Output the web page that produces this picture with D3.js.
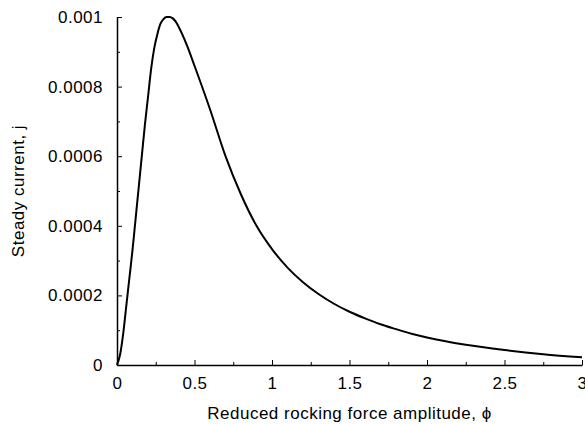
<!DOCTYPE html>
<html>
<head>
<meta charset="utf-8">
<script src="https://cdn.jsdelivr.net/npm/d3@7"></script>
<style>
    body { margin: 0; background: #fff; }
    .axis text { font-family: "Liberation Sans", Arial, sans-serif; font-size: 17px; letter-spacing: 0.5px; fill: #000; }
    .axis path, .axis line { stroke: #000; }
    .axis-title { font-family: "Liberation Sans", Arial, sans-serif; font-size: 17px; letter-spacing: 0.5px; fill: #000; }
</style>
</head>
<body>
<svg id="chart"></svg>
<script>
// Curve: reduced amplitude phi vs steady current j
const phiValues = [0, 0.02, 0.04, 0.06, 0.08, 0.10, 0.12, 0.14, 0.16, 0.18, 0.20, 0.22, 0.24, 0.26, 0.28, 0.30, 0.32, 0.34, 0.36, 0.38, 0.40, 0.45, 0.5, 0.6, 0.7, 0.8, 0.9, 1.0, 1.1, 1.2, 1.3, 1.4, 1.5, 1.6, 1.7, 1.8, 1.9, 2.0, 2.25, 2.5, 2.75, 3.0];
const currentValues = [0, 0.00003, 0.00009, 0.00017, 0.00025, 0.00033, 0.00042, 0.00051, 0.0006, 0.00069, 0.00077, 0.00085, 0.00091, 0.00095, 0.00098, 0.000994, 0.001, 0.001, 0.000996, 0.000986, 0.00097, 0.00092, 0.00086, 0.000735, 0.0006, 0.00049, 0.0004, 0.000333, 0.00028, 0.000238, 0.000204, 0.000176, 0.000153, 0.000134, 0.000117, 0.000103, 0.00009, 0.000079, 0.000058, 0.000043, 0.000031, 0.000022];

const xTicks = [0, 0.5, 1, 1.5, 2, 2.5, 3];
const xMinorTicks = [0.25, 0.75, 1.25, 1.75, 2.25, 2.75];
const yTicks = [0, 0.0002, 0.0004, 0.0006, 0.0008, 0.001];
const yMinorTicks = [0.0001, 0.0003, 0.0005, 0.0007, 0.0009];

const containerWidth = 585, containerHeight = 424;
const margin = { top: 17, right: 3, bottom: 59, left: 117 };
const width = containerWidth - margin.left - margin.right;
const height = containerHeight - margin.top - margin.bottom;

const svg = d3.select('#chart')
    .attr('width', containerWidth)
    .attr('height', containerHeight);

const chart = svg.append('g')
    .attr('transform', `translate(${margin.left},${margin.top})`);

const xScale = d3.scaleLinear().domain([0, 3]).range([0, width]);
const yScale = d3.scaleLinear().domain([0, 0.001]).range([height, 0]);

// minor ticks first, then major axes on top
chart.append('g')
    .attr('class', 'axis')
    .attr('transform', `translate(0,${height})`)
    .call(d3.axisTop(xScale).tickValues(xMinorTicks).tickSize(3).tickFormat(''))
    .call(g => g.select('.domain').remove());

chart.append('g')
    .attr('class', 'axis')
    .call(d3.axisRight(yScale).tickValues(yMinorTicks).tickSize(3).tickFormat(''))
    .call(g => g.select('.domain').remove());

const xAxisGroup = chart.append('g')
    .attr('class', 'axis x-axis')
    .attr('transform', `translate(0,${height})`)
    .call(d3.axisBottom(xScale).tickValues(xTicks).tickSize(0).tickPadding(12).tickFormat(d3.format('')));

xAxisGroup.selectAll('.tick').append('line')
    .attr('y2', -5)
    .attr('stroke', '#000');

const yAxisGroup = chart.append('g')
    .attr('class', 'axis y-axis')
    .call(d3.axisLeft(yScale).tickValues(yTicks).tickSize(0).tickPadding(14).tickFormat(d => d === 0 ? '0' : d3.format('')(+d.toPrecision(3))));

yAxisGroup.selectAll('.tick').append('line')
    .attr('x2', 5)
    .attr('stroke', '#000');

xAxisGroup.select('.domain').attr('stroke-width', 1.5);
yAxisGroup.select('.domain').attr('stroke-width', 1.5);

// curve
const data = phiValues.map((p, i) => ({ phi: p, j: currentValues[i] }));
const line = d3.line()
    .x(d => xScale(d.phi))
    .y(d => yScale(d.j))
    .curve(d3.curveMonotoneX);

chart.append('path')
    .datum(data)
    .attr('fill', 'none')
    .attr('stroke', '#000')
    .attr('stroke-width', 2)
    .attr('d', line);

// axis titles
svg.append('text')
    .attr('class', 'axis-title')
    .attr('text-anchor', 'middle')
    .attr('x', margin.left + width / 2)
    .attr('y', 419)
    .text('Reduced rocking force amplitude, \u03d5');

const yTitle = svg.append('text')
    .attr('class', 'axis-title')
    .attr('text-anchor', 'middle')
    .attr('x', 24)
    .attr('y', margin.top + height / 2)
    .text('Steady current, j');
yTitle.attr('transform', `rotate(270, ${yTitle.attr('x')}, ${yTitle.attr('y')})`);
</script>
</body>
</html>
